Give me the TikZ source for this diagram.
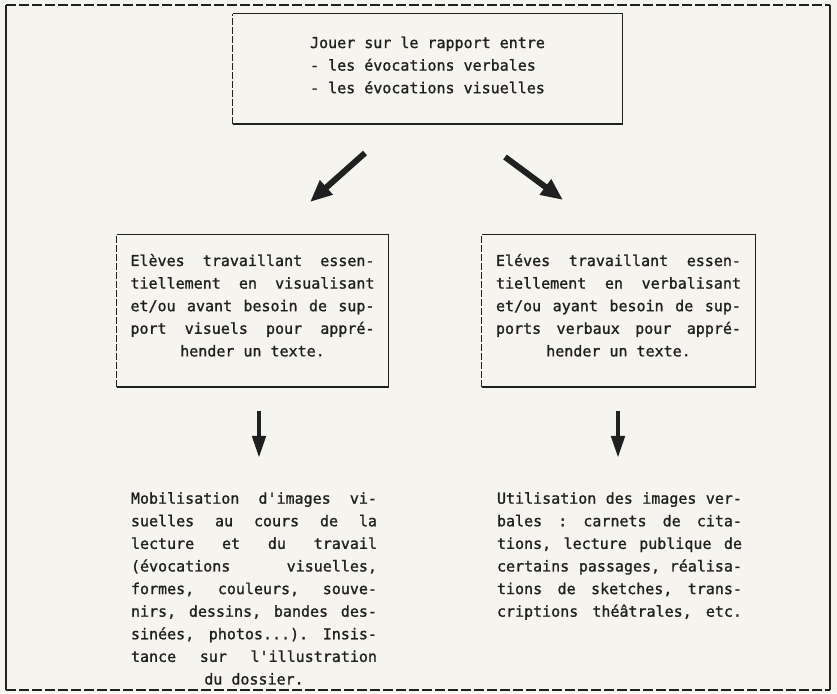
\documentclass[tikz,border=0pt]{standalone}
\usepackage{fontspec}
\usepackage{tikz}
\usetikzlibrary{arrows.meta,positioning}
\newfontfamily\typewriter[FakeBold=1.2]{DejaVu Sans Mono}
\definecolor{paper}{RGB}{246,244,238}
\definecolor{ink}{RGB}{32,32,32}
% justified typewriter line
\newcommand{\jl}[1]{\leavevmode\hbox to\linewidth{\spaceskip=\fontdimen2\font plus 1fill\relax #1}}
% centred typewriter line
\newcommand{\cl}[1]{\leavevmode\hbox{\spaceskip=\fontdimen2\font\relax #1}}
% three solid sides, dashed left side
\newcommand{\boxlines}[1]{%
  \draw[edge] (#1.north west) -- (#1.north east) -- (#1.south east) -- (#1.south west);
  \draw[leftedge] (#1.south west) -- (#1.north west);}

\begin{document}
\begin{tikzpicture}[x=1pt,y=1pt,
  every node/.style={font=\typewriter\fontsize{15}{22.6}\selectfont\frenchspacing,text=ink,inner sep=0pt},
  box/.style={draw=none},
  edge/.style={ink,line width=1.4pt},
  leftedge/.style={ink,line width=0.8pt,dash pattern=on 7pt off 2pt},
  frameside/.style={ink,line width=1.8pt},
  frameend/.style={ink,line width=1.3pt,dash pattern=on 10pt off 3pt},
  bigarrow/.style={ink,line width=6pt,-{Triangle[length=22pt,width=18pt]}},
  downarrow/.style={ink,line width=4.5pt,-{Triangle[length=22pt,width=13pt]}}]
\fill[paper] (0,0) rectangle (837,693);
% outer frame
\draw[frameside] (6,3) -- (6,688);
\draw[frameside] (830,3) -- (830,688);
\draw[frameend] (6,688) -- (830,688);
\draw[frameend] (6,3) -- (830,3);

\node[box,minimum width=389pt,minimum height=110pt] (topbox) at (427.5,624) {};
\node[align=left] (toptext) at (427.5,628)
  {Jouer sur le rapport entre\\- les évocations verbales\\- les évocations visuelles};

\node[box,minimum width=271pt,minimum height=152pt] (leftbox) at (252.5,382) {};
\node[box,minimum width=273pt,minimum height=152pt] (rightbox) at (618.5,382) {};
\foreach \b in {topbox,leftbox,rightbox}
{       \boxlines{\b}
}

\node[text width=244pt,align=center,below=19pt of leftbox.north] (lefttext)
  {\jl{Elèves travaillant essen-}\\
   \jl{tiellement en visualisant}\\
   \jl{et/ou avant besoin de sup-}\\
   \jl{port visuels pour appré-}\\
   \cl{hender un texte.}};
\node[text width=245pt,align=center,below=19pt of rightbox.north] (righttext)
  {\jl{Eléves travaillant essen-}\\
   \jl{tiellement en verbalisant}\\
   \jl{et/ou ayant besoin de sup-}\\
   \jl{ports verbaux pour appré-}\\
   \cl{hender un texte.}};

\node[text width=246pt,align=center,anchor=north] (leftres) at (254,201)
  {\jl{Mobilisation d'images vi-}\\
   \jl{suelles au cours de la}\\
   \jl{lecture et du travail}\\
   \jl{(évocations visuelles,}\\
   \jl{formes, couleurs, souve-}\\
   \jl{nirs, dessins, bandes des-}\\
   \jl{sinées, photos...). Insis-}\\
   \jl{tance sur l'illustration}\\
   \cl{du dossier.}};
\node[text width=245pt,align=center,anchor=north] (rightres) at (619.5,201)
  {\jl{Utilisation des images ver-}\\
   \jl{bales : carnets de cita-}\\
   \jl{tions, lecture publique de}\\
   \jl{certains passages, réalisa-}\\
   \jl{tions de sketches, trans-}\\
   \jl{criptions théâtrales, etc.}};

% arrows
\coordinate (lfrom) at (365,540);
\coordinate (lto) at (310,491);
\coordinate (rfrom) at (505,536);
\coordinate (rto) at (563,493);
\draw[bigarrow] (lfrom) -- (lto);
\draw[bigarrow] (rfrom) -- (rto);
\foreach \x/\n in {259/l,618/r}
{       \coordinate (\n top) at (\x,282);
        \coordinate (\n tip) at (\x,235);
        \draw[downarrow] (\n top) -- (\n tip);
}
\end{tikzpicture}
\end{document}
